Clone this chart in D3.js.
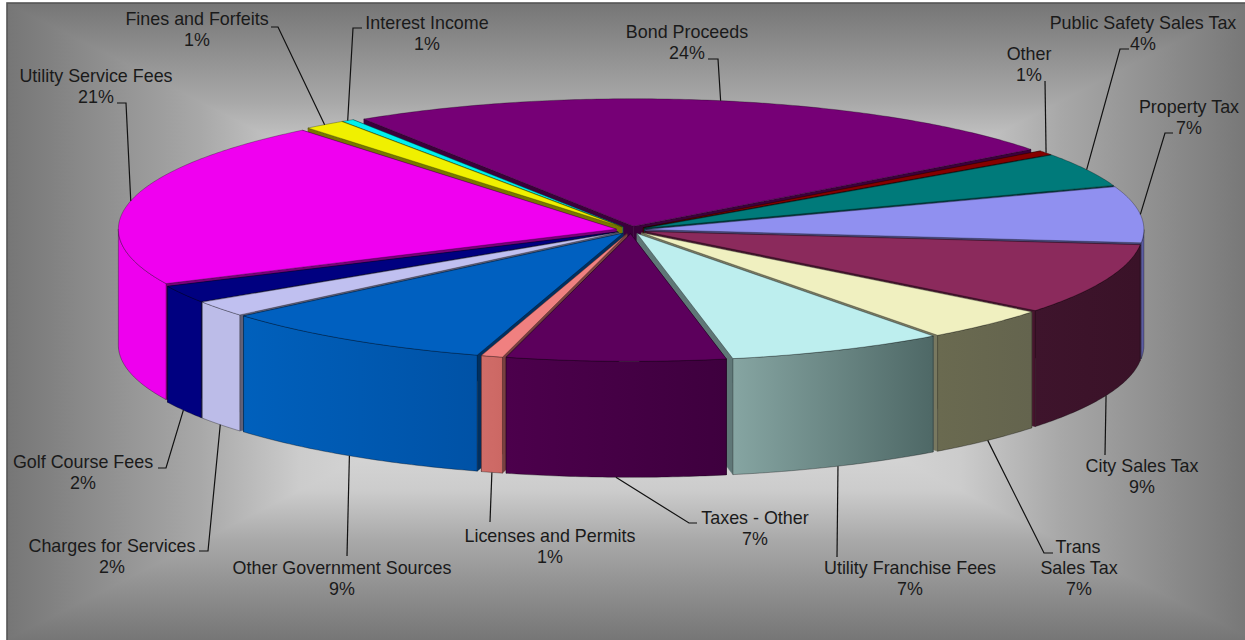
<!DOCTYPE html>
<html><head><meta charset="utf-8">
<script src="https://cdn.jsdelivr.net/npm/d3@7"></script>
<style>html,body{margin:0;padding:0;background:#fff}svg{display:block}text{font-family:"Liberation Sans",Arial,sans-serif;font-size:17.9px;fill:#1a1a1a;text-anchor:middle}</style>
</head><body><svg id="c" width="1245" height="640"></svg>
<script>
// Data, clockwise from the back-left edge of the largest slice
const categories=["Bond Proceeds","Other","Public Safety Sales Tax","Property Tax","City Sales Tax","Trans\nSales Tax","Utility Franchise Fees","Taxes - Other","Licenses and Permits","Other Government Sources","Charges for Services","Golf Course Fees","Utility Service Fees","Fines and Forfeits","Interest Income"];
const percentLabels=[24,1,4,7,9,7,7,7,1,9,2,2,21,1,1];
const drawnShare=[23.8,0.55,4.3,7.1,9,4.2,7.05,7.1,0.7,9.05,2,2.2,21.15,1.35,0.4];
const topColors=["#760076","#860000","#007a7a","#9090f0","#8b2a5c","#f0f0c0","#bdeeee","#5c005c","#f08080","#0060c0","#c0c0f0","#000080","#f000f0","#f0f000","#00f0f0"];
const wallLight=["#3c003c","#430000","#003d3d","#5c5ca4","#3e142c","#6a6a50","#86a5a2","#4c004c","#d06c68","#0060bc","#bcbce8","#000080","#ee00ee","#787800","#007878"];
const wallDark=["#3c003c","#430000","#003d3d","#5c5ca4","#3a1228","#64644e","#4e6866","#3e003e","#cc6864","#0052a6","#bcbce8","#000080","#ee00ee","#787800","#007878"];
// Layout
const cx=631,cy=230,R=498,tilt=0.256,depth=116,burst=15,startDeg=327.2;
const bgStops=[[0,"#f4f4f4"],[.53,"#cccccc"],[.69,"#a8a8a8"],[1,"#767676"]];
const labelLayout=[
 {x:687,y:38,path:[[708,59],[718,59]]},
 {x:1029,y:60,path:[[1045,81]],f:.55},
 {x:1143,y:29,path:[[1129,49],[1120,49]]},
 {x:1189,y:113,path:[[1173,133],[1165,133]]},
 {x:1142,y:472,path:[[1105,455]]},
 {x:1079,y:553,path:[[1053,553],[1044,553]]},
 {x:910,y:574,path:[[837,557]]},
 {x:755,y:524,path:[[697,523],[689,523]]},
 {x:550,y:542,path:[[490,522]]},
 {x:342,y:574,path:[[347,556]]},
 {x:112,y:552,path:[[199,551],[208,551]]},
 {x:83,y:468,path:[[158,468],[166,468]]},
 {x:96,y:82,path:[[117,103],[126,103]]},
 {x:197,y:25,path:[[271,27],[278,27]]},
 {x:427,y:29,path:[[362,28],[353,28]]}
];
const svg=d3.select("#c"),defs=svg.append("defs");
const W=1245,H=640,bx=630,by=321.5,hw=623,hh=318.5;
function grad(id,x1,y1,x2,y2,stops){
  const g=defs.append("linearGradient").attr("id",id).attr("gradientUnits","userSpaceOnUse")
   .attr("x1",x1).attr("y1",y1).attr("x2",x2).attr("y2",y2);
  g.selectAll("stop").data(stops).join("stop").attr("offset",d=>d[0]).attr("stop-color",d=>d[1]);
}
const mirrored=[...bgStops.map(d=>[(1-d[0])/2,d[1]]).reverse(),...bgStops.slice(1).map(d=>[(1+d[0])/2,d[1]])];
grad("bgH",bx-hw,0,bx+hw,0,mirrored);grad("bgV",0,by-hh,0,by+hh,mirrored);
svg.append("rect").attr("x",7).attr("y",3).attr("width",W-7).attr("height",H-3).attr("fill","url(#bgH)");
const tri=(pts)=>"M"+pts.map(p=>p.join(",")).join("L")+"Z";
svg.append("path").attr("fill","url(#bgV)").attr("d",tri([[bx,by],[bx-hw,by-hh],[bx+hw,by-hh]]));
svg.append("path").attr("fill","url(#bgV)").attr("d",tri([[bx,by],[bx-hw,by+hh],[bx+hw,by+hh]]));
svg.append("rect").attr("x",7).attr("y",3).attr("width",1300).attr("height",700).attr("fill","none").attr("stroke","#555").attr("stroke-width",1.6);

const pie=d3.pie().sort(null).value(d=>d).startAngle(startDeg*Math.PI/180).endAngle((startDeg+360)*Math.PI/180);
const arcs=pie(drawnShare);
const xS=d3.scaleLinear().domain([-1,1]).range([cx-1,cx+1]);
const yS=d3.scaleLinear().domain([-1,1]).range([cy-tilt,cy+tilt]);
const line=d3.line().x(d=>d[0]).y(d=>d[1]);
const mid=a=>(a.startAngle+a.endAngle)/2;
function pt(a,ang,r,drop=0){const m=mid(a);
  const ux=r*Math.sin(ang)+burst*Math.sin(m),uy=-r*Math.cos(ang)-burst*Math.cos(m);
  return [xS(ux),yS(uy)+drop];}
function rim(a,a0,a1,drop=0){const n=Math.max(2,Math.ceil((a1-a0)*90));
  return d3.range(n+1).map(i=>pt(a,a0+(a1-a0)*i/n,R,drop));}
function frontSpans(a){const out=[];[90,450].forEach(s=>{
   const lo=Math.max(a.startAngle,s*Math.PI/180),hi=Math.min(a.endAngle,(s+180)*Math.PI/180);
   if(hi>lo)out.push([lo,hi]);});return out;}
const order=d3.range(arcs.length).sort((i,j)=>d3.ascending(-Math.cos(mid(arcs[i])),-Math.cos(mid(arcs[j]))));
const pieG=svg.append("g").attr("stroke-linejoin","round");
order.forEach(i=>{
  const a=arcs[i],g=pieG.append("g"),side=d3.color(topColors[i]);
  const wallC=d3.rgb(side.r*.5,side.g*.5,side.b*.5)+"";
  [a.startAngle,a.endAngle].forEach(ang=>{
    const p0=pt(a,ang,0),p1=pt(a,ang,R);
    g.append("path").attr("d",line([p0,p1,[p1[0],p1[1]+depth],[p0[0],p0[1]+depth]])+"Z")
     .attr("fill",wallC).attr("stroke",wallC).attr("stroke-width",.5);
  });
  frontSpans(a).forEach(([lo,hi],k)=>{
    const top=rim(a,lo,hi),bot=rim(a,lo,hi,depth).reverse();
    const id="w"+i+"_"+k,xs=[top[0][0],top[top.length-1][0]];
    grad(id,d3.min(xs),0,d3.max(xs),0,[[0,wallLight[i]],[1,wallDark[i]]]);
    g.append("path").attr("d",line(top.concat(bot))+"Z").attr("fill","url(#"+id+")")
     .attr("stroke","rgba(0,0,0,.45)").attr("stroke-width",.7);
  });
  g.append("path").attr("d",line([pt(a,a.startAngle,0),...rim(a,a.startAngle,a.endAngle)])+"Z")
   .attr("fill",topColors[i]).attr("stroke","rgba(0,0,0,.4)").attr("stroke-width",.7);
});
// Leaders and labels
const labelG=svg.append("g");
arcs.forEach((a,i)=>{
  const L=labelLayout[i],f=L.f===undefined?.5:L.f,ang=a.startAngle+(a.endAngle-a.startAngle)*f;
  const front=-Math.cos(ang)>0,anchor=pt(a,ang,R,front?depth:0);
  labelG.append("path").attr("d",line([...L.path,anchor])).attr("fill","none").attr("stroke","#111").attr("stroke-width",1.2);
  const lines=(categories[i]+"\n"+percentLabels[i]+"%").split("\n");
  const t=labelG.append("text");
  lines.forEach((s,k)=>t.append("tspan").attr("x",L.x+(s==="Trans"?-1:0)).attr("y",L.y+k*20.8).text(s));
});
</script></body></html>
